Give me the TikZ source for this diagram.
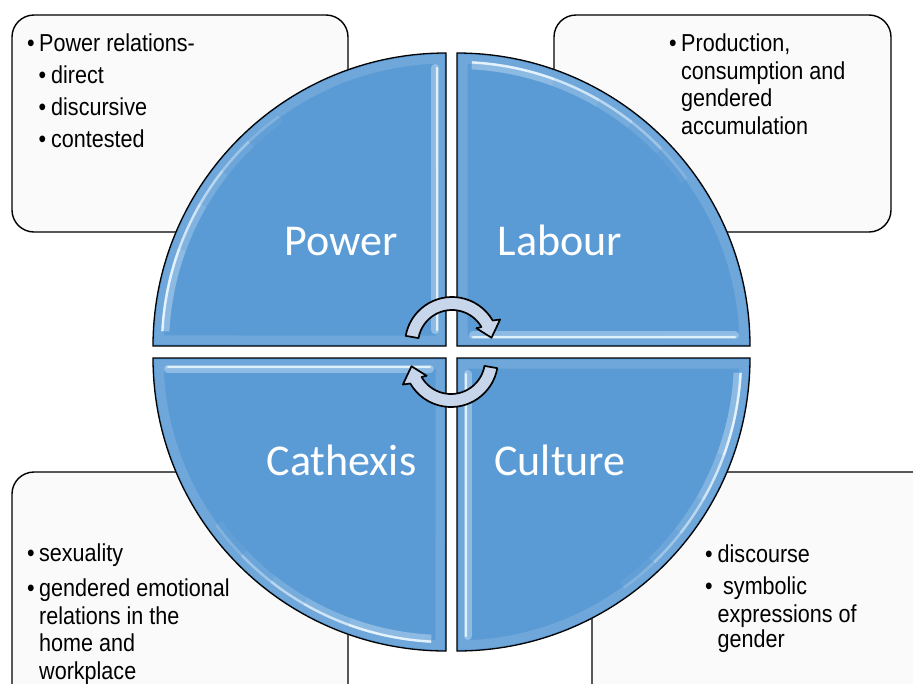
\documentclass[tikz,border=0pt]{standalone}
\usepackage{fontspec}
\newfontfamily\bodyfont{Liberation Sans}[FakeStretch=0.88]
\newfontfamily\labelfont{Carlito}

\definecolor{segblue}{RGB}{91,155,213}
\definecolor{shinecol}{RGB}{236,248,255}
\definecolor{arrowfill}{RGB}{200,214,235}
\definecolor{boxfill}{RGB}{250,250,250}

\tikzset{
  notebox/.style={draw=black, line width=1.4pt, fill=boxfill, rounded corners=22pt},
  segfill/.style={fill=segblue},
  segedge/.style={draw=black, line width=1.3pt, line join=miter},
  rim/.style={draw=white, opacity=0.13, line width=9pt, line join=miter},
  glow/.style={draw=shinecol, line width=8pt, line cap=round},
  shine/.style={draw=shinecol, line width=2.4pt, line cap=round},
  seglabel/.style={font=\labelfont\fontsize{44}{50}\selectfont, text=white, anchor=base, inner sep=0pt},
  itemtext/.style={font=\bodyfont\fontsize{24.5}{28}\selectfont, anchor=base west, inner sep=0pt},
  cyclearrow/.style={fill=arrowfill, draw=black, line width=1.7pt, line join=round},
}

% one line of box text, placed by its baseline
\newcommand\itemline[4]{\node[itemtext] (#1) at (#2,#3) {#4};}

% a quarter disc with bevel highlights; drawn up-left of its corner, then rotated
\newcommand\quarterdisc[3]{%
  \begin{scope}[shift={(#1,#2)}, rotate=#3]
    \fill[segfill] (0,0) -- (180:293) arc[start angle=180, end angle=270, radius=293] -- cycle;
    \draw[rim] (-6,-6) -- (181.2:287) arc[start angle=181.2, end angle=268.8, radius=287] -- cycle;
    % lit straight edge
    \draw[glow, opacity=0.35] (-11,-16) -- (-11,-278);
    \draw[shine, opacity=0.85] (-9,-16) -- (-9,-278);
    % lit part of the arc, fading away
    \foreach \a/\b/\o in {183/200/0.9, 200/210/0.7, 210/218/0.5, 218/226/0.3, 226/234/0.12}{
      \draw[glow, opacity=0.38*\o, line cap=butt] (\a:281) arc[start angle=\a, end angle=\b, radius=281];
      \draw[shine, opacity=\o, line cap=butt] (\a:284) arc[start angle=\a, end angle=\b, radius=284];
    }
    \draw[segedge] (0,0) -- (180:293) arc[start angle=180, end angle=270, radius=293] -- cycle;
  \end{scope}}

% a half-turn arrow around a centre
\newcommand\halfturn[3]{%
  \begin{scope}[shift={(#1,#2)}, rotate=#3]
    \path[cyclearrow] (-170:47) arc[start angle=-170, end angle=-30, radius=47]
      -- (-27:54) -- (-9:40) -- (-33:29) -- (-30:34)
      arc[start angle=-30, end angle=-170, radius=34] -- cycle;
  \end{scope}}

\begin{document}
\begin{tikzpicture}[x=1pt, y=-1pt]
  \useasboundingbox (0,0) rectangle (913,683);
  \clip (0,0) rectangle (913,683);

  % text boxes behind the wheel
  \draw[notebox] (12,15) rectangle (348,232);
  \draw[notebox] (554,15) rectangle (891,232);
  \draw[notebox] (12,472) rectangle (348,710);
  \draw[notebox] (592,472) rectangle (935,710);

  % top left: power
  \itemline{b1}{27}{51.7}{•}
  \itemline{t1}{39}{51.7}{Power relations-}
  \itemline{b2}{38.5}{83.3}{•}
  \itemline{t2}{51}{83.3}{direct}
  \itemline{b3}{38.5}{115.6}{•}
  \itemline{t3}{51}{115.6}{discursive}
  \itemline{b4}{38.5}{147.6}{•}
  \itemline{t4}{51}{147.6}{contested}

  % top right: labour
  \itemline{b5}{669}{51.7}{•}
  \itemline{t5}{681}{51.7}{Production,}
  \itemline{t6}{681}{79}{consumption and}
  \itemline{t7}{681}{106.7}{gendered}
  \itemline{t8}{681}{134.3}{accumulation}

  % bottom left: cathexis
  \itemline{b9}{27}{561.7}{•}
  \itemline{t9}{39}{561.7}{sexuality}
  \itemline{b10}{27}{596.7}{•}
  \itemline{t10}{39}{596.7}{gendered emotional}
  \itemline{t11}{39}{624}{relations in the}
  \itemline{t12}{39}{651.7}{home and}
  \itemline{t13}{39}{679}{workplace}

  % bottom right: culture
  \itemline{b14}{705}{562.7}{•}
  \itemline{t14}{717.5}{562.7}{discourse}
  \itemline{b15}{705}{594.3}{•}
  \itemline{t15}{723}{594.3}{symbolic}
  \itemline{t16}{717.5}{622.3}{expressions of}
  \itemline{t17}{717.5}{647.7}{gender}

  % the wheel of four quarters
  \quarterdisc{446}{346}{0}
  \quarterdisc{457}{346}{-90}
  \quarterdisc{457}{358}{180}
  \quarterdisc{446}{358}{90}

  \node[seglabel] (power)    at (341.5,255) {Power};
  \node[seglabel] (labour)   at (560,255)   {Labour};
  \node[seglabel] (cathexis) at (341.5,475) {Cathexis};
  \node[seglabel] (culture)  at (560,475)   {Culture};

  % turning arrows at the hub
  \halfturn{452}{344}{0}
  \halfturn{451}{360}{180}
\end{tikzpicture}
\end{document}
